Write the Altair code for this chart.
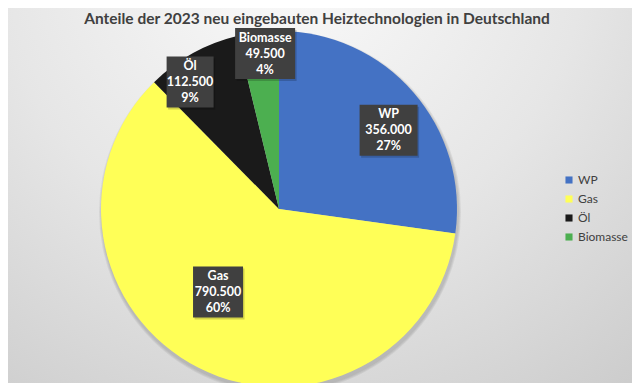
import altair as alt
import pandas as pd

title_text = "Anteile der 2023 neu eingebauten Heiztechnologien in Deutschland"
categories = ["WP", "Gas", "Öl", "Biomasse"]
values = [356000, 790500, 112500, 49500]
colors = ["#4472C4", "#FFFF57", "#1A1A1A", "#4CAF50"]

# label placement / styling (not data)
label_radius = [135, 103, 155, 156]
label_shift_deg = [5.3, 9.6, -5.9, 1.7]
box_width = [58, 50, 47, 60]
box_height = 51

W, H = 624, 375
CX, CY, R = 271, 201, 178

total = sum(values)
value_labels = [f"{v:,}".replace(",", ".") for v in values]
percent_labels = [f"{round(100 * v / total)}%" for v in values]

df = pd.DataFrame({
    "cat": categories,
    "value": values,
    "vlabel": value_labels,
    "plabel": percent_labels,
    "idx": list(range(len(categories))),
    "lr": label_radius,
    "ls": label_shift_deg,
    "bw": box_width,
})

one = pd.DataFrame({"a": [0]})

bg = alt.Chart(one).mark_rect(
    color=alt.RadialGradient(
        gradient="radial",
        stops=[alt.GradientStop(color="#fbfbfb", offset=0),
               alt.GradientStop(color="#e6e6e6", offset=0.5),
               alt.GradientStop(color="#c9c9c9", offset=1)],
        x1=0.45, y1=0.1, r1=0, x2=0.45, y2=0.1, r2=0.95,
    )
).encode(x=alt.value(0), x2=alt.value(W), y=alt.value(0), y2=alt.value(H))

shadows = [
    alt.Chart(one).mark_arc(outerRadius=R + k, color="#777777", opacity=0.12).encode(
        theta=alt.value(6.2832), x=alt.value(CX + 1), y=alt.value(CY + 3))
    for k in (1, 2, 3)
]

pie = alt.Chart(df).mark_arc(outerRadius=R).encode(
    theta=alt.Theta("value:Q", stack=True),
    color=alt.Color(
        "cat:N",
        scale=alt.Scale(domain=categories, range=colors),
        legend=alt.Legend(
            orient="none", legendX=555, legendY=166, title=None,
            symbolType="square", symbolSize=50, symbolStrokeWidth=0,
            labelFontSize=12, labelColor="#404040", labelFont="Lato",
            rowPadding=7, labelOffset=3,
        ),
    ),
    order=alt.Order("idx:Q"),
    x=alt.value(CX),
    y=alt.value(CY),
)

lab = (
    alt.Chart(df)
    .transform_joinaggregate(total="sum(value)")
    .transform_window(cum="sum(value)", sort=[alt.SortField("idx")], frame=[None, 0])
    .transform_calculate(mid="(datum.cum - datum.value/2)/datum.total*2*PI + datum.ls*PI/180")
    .transform_calculate(
        lx=f"{CX} + datum.lr*sin(datum.mid)",
        ly=f"{CY} - datum.lr*cos(datum.mid)",
    )
    .transform_calculate(
        bx1="datum.lx - datum.bw/2",
        bx2="datum.lx + datum.bw/2",
        by1=f"datum.ly - {box_height/2}",
        by2=f"datum.ly + {box_height/2}",
        txt="[datum.cat, datum.vlabel, datum.plabel]",
    )
)

box_shadow = lab.mark_rect(color="#000000", opacity=0.18).encode(
    x=alt.X("sx1:Q", scale=None), x2="sx2:Q",
    y=alt.Y("sy1:Q", scale=None), y2="sy2:Q",
).transform_calculate(sx1="datum.bx1+1.5", sx2="datum.bx2+1.5",
                      sy1="datum.by1+2", sy2="datum.by2+2")

boxes = lab.mark_rect(color="#404040").encode(
    x=alt.X("bx1:Q", scale=None), x2="bx2:Q",
    y=alt.Y("by1:Q", scale=None), y2="by2:Q",
)

texts = lab.mark_text(
    font="Lato", fontSize=12.5, fontWeight="bold", color="#ffffff",
    lineHeight=16, baseline="middle", align="center", dy=-16,
).encode(
    x=alt.X("lx:Q", scale=None),
    y=alt.Y("ly:Q", scale=None),
    text="txt:N",
)

title = alt.Chart(pd.DataFrame({"t": [title_text]})).mark_text(
    font="Lato", fontSize=15.5, fontWeight="bold", color="#404040",
    baseline="middle", align="center",
).encode(text="t:N", x=alt.value(309), y=alt.value(11))

chart = alt.layer(bg, *shadows, pie, box_shadow, boxes, texts, title).properties(
    width=W, height=H, autosize="none", padding=0,
).configure_view(stroke=None).configure(background="#d8d8d8")

chart.save("out.html", embed_options={"renderer": "svg", "actions": False})
